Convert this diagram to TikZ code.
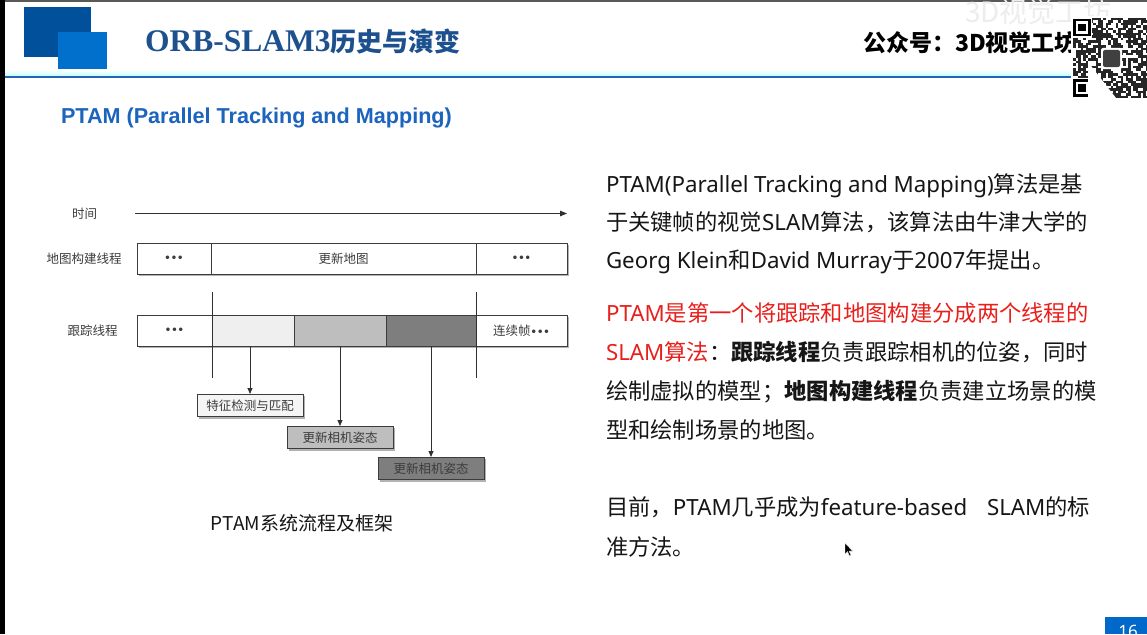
\documentclass[tikz,border=0pt]{standalone}
\usepackage{fontspec}
\usetikzlibrary{arrows.meta}
\newfontfamily\cjk{Noto Sans CJK SC}
\newfontfamily\lat{Noto Sans}
\newfontfamily\titleserif{Liberation Serif}
\newfontfamily\hsans{Liberation Sans}
\newfontfamily\dv{DejaVu Sans}
\definecolor{titleblue}{RGB}{28,80,142}
\definecolor{logodark}{RGB}{0,80,155}
\definecolor{logolight}{RGB}{0,112,204}
\definecolor{subblue}{RGB}{28,100,190}
\definecolor{hotred}{RGB}{232,32,28}
\definecolor{bodytxt}{RGB}{22,22,22}
\definecolor{diag}{RGB}{60,60,60}
\definecolor{cellA}{RGB}{239,239,239}
\definecolor{cellB}{RGB}{190,190,190}
\definecolor{cellC}{RGB}{126,126,126}
\definecolor{rule}{RGB}{40,100,180}
\definecolor{pageblue}{RGB}{0,104,200}
\newcommand{\bulletrun}{{\dv\bfseries\fontsize{10}{10}\selectfont •••}}
\begin{document}
\begin{tikzpicture}[x=1pt,y=-1pt,
  every node/.style={inner sep=0pt,outer sep=0pt},
  lbl/.style={text=diag,font=\cjk\fontsize{12.5}{13}\selectfont},
  cell/.style={lbl,draw=diag,line width=0.7pt,minimum height=31pt,anchor=north west,fill=white},
  taskbox/.style={lbl,draw=diag,line width=0.7pt,minimum width=106pt,minimum height=22.5pt,anchor=north west},
  conn/.style={draw=diag!80!black,line width=0.8pt},
  tip/.style={conn,-{Triangle[length=6pt,width=5pt]}},
  body/.style={anchor=base west,text=bodytxt,font=\cjk\fontsize{22.3}{22.3}\selectfont},
]
\useasboundingbox (0,0) rectangle (1147,634);
\fill[white] (0,0) rectangle (1147,634);

% screen frame
\fill[black] (0,0) rectangle (5,634);
\fill[black!65] (5,0) rectangle (1147,2.5);

% header logo squares
\fill[logodark] (24,7) rectangle (91,57);
\fill[logolight] (58,32) rectangle (107,69);

% header title
\node[anchor=west,text=titleblue] (title) at (145,42)
  {\titleserif\bfseries\fontsize{31.5}{31.5}\selectfont ORB-SLAM3\cjk\fontsize{26}{26}\selectfont 历史与演变};
\node[anchor=west,text=black] (account) at (863,43)
  {\cjk\bfseries\fontsize{23}{23}\selectfont 公众号：3D视觉工坊};

% header rule with glow
\shade[top color=white,bottom color=cyan!25] (5,70) rectangle (1073,76);
\fill[rule] (5,76) rectangle (1073,78);

% faint watermark
\node[anchor=west,text=black!7] (mark) at (965,12)
  {\cjk\fontsize{28}{28}\selectfont 3D视觉工坊};

% QR code
\fill[white] (1071,16) rectangle (1147,98);
\pgfmathsetseed{11}
\foreach \i in {0,...,29}{
  \foreach \j in {0,...,31}{
    \pgfmathrandominteger{\r}{0}{2}
    \ifnum\r>0 \fill[black!85] (1073+2.5*\i,18+2.5*\j) rectangle ++(2.5,2.5);\fi
  }
}
\foreach \yy in {19,79}{
  \fill[white] (1072,\yy-1) rectangle ++(20,20);
  \fill[black] (1073,\yy) rectangle ++(17.5,17.5);
  \fill[white] (1075.5,\yy+2.5) rectangle ++(12.5,12.5);
  \fill[black] (1078,\yy+5) rectangle ++(7.5,7.5);
}
\fill[white] (1088,62) -- (1116,98) -- (1088,98) -- cycle;
\fill[white,rounded corners=2pt] (1101,48) rectangle (1122,69);
\fill[black!75,rounded corners=2pt] (1103,50) rectangle (1120,67);

% section heading
\node[anchor=west,text=subblue] (heading) at (61,118)
  {\hsans\bfseries\fontsize{21.6}{21.6}\selectfont PTAM (Parallel Tracking and Mapping)};

% ---------- timeline diagram ----------
\node[lbl] (timelbl) at (84.5,214) {时间};
\coordinate (t0) at (135,213.5);
\coordinate (t1) at (567,213.5);
\draw[conn,-{Triangle[length=7pt,width=5.5pt]}] (t0) -- (t1);

% mapping thread row
\node[lbl] (maplbl) at (84,259) {地图构建线程};
\fill[black!30] (138.5,244.5) rectangle (568.5,275.5);
\node[cell,minimum width=74pt]  (m1) at (137,243.3) {\bulletrun};
\node[cell,minimum width=265pt] (m2) at (211,243.3) {更新地图};
\node[cell,minimum width=91pt]  (m3) at (476,243.3) {\bulletrun};

% tracking thread row
\node[lbl] (trklbl) at (92.5,330.5) {跟踪线程};
\fill[black!30] (138.5,316.5) rectangle (568.5,347.5);
\node[cell,minimum width=75pt] (k1) at (137,315.3) {\bulletrun};
\node[cell,minimum width=82pt,fill=cellA] (k2) at (212,315.3) {};
\node[cell,minimum width=92pt,fill=cellB] (k3) at (294,315.3) {};
\node[cell,minimum width=90pt,fill=cellC] (k4) at (386,315.3) {};
\node[cell,minimum width=91pt] (k5) at (476,315.3) {连续帧\bulletrun};

% keyframe boundaries
\coordinate (v1a) at (212,292); \coordinate (v1b) at (212,378);
\coordinate (v2a) at (476,292); \coordinate (v2b) at (476,378);
\draw[conn] (v1a) -- (v1b);
\draw[conn] (v2a) -- (v2b);

% tracking sub-tasks
\fill[black!30] (198.5,395.5) rectangle (304.5,418.5);
\node[taskbox,fill=black!4] (b1) at (197,394) {特征检测与匹配};
\fill[black!30] (288.5,427.5) rectangle (394.5,450.5);
\node[taskbox,fill=cellB] (b2) at (287,426) {更新相机姿态};
\fill[black!30] (379.5,458.5) rectangle (485.5,481.5);
\node[taskbox,fill=cellC] (b3) at (378,457) {更新相机姿态};
\draw[tip] (b1.north |- k2.south) -- (b1.north);
\draw[tip] (b2.north |- k3.south) -- (b2.north);
\draw[tip] (b3.north |- k4.south) -- (b3.north);

\node[text=bodytxt] (caption) at (302,523)
  {\cjk\fontsize{19}{19}\selectfont PTAM系统流程及框架};

% ---------- description text ----------
\node[body] (p1) at (606,192) {\hbox to 477pt{\lat PTAM(Parallel Tracking and Mapping)\cjk 算法是基}};
\node[body] (p2) at (606,230) {于关键帧的视觉\lat SLAM\cjk 算法，该算法由牛津大学的};
\node[body] (p3) at (606,268) {\lat Georg Klein\cjk 和\lat David Murray\cjk 于\lat 2007\cjk 年提出。};
\node[body] (p4) at (606,321) {\color{hotred}\lat PTAM\cjk 是第一个将跟踪和地图构建分成两个线程的};
\node[body] (p5) at (606,360) {{\color{hotred}\lat SLAM\cjk 算法}：\bfseries 跟踪线程\mdseries 负责跟踪相机的位姿，同时};
\node[body] (p6) at (606,399) {绘制虚拟的模型；\bfseries 地图构建线程\mdseries 负责建立场景的模};
\node[body] (p7) at (606,438) {型和绘制场景的地图。};
\node[body] (p8) at (606,515) {\hbox to 484pt{目前，\lat PTAM\cjk 几乎成为\lat feature-based SLAM\cjk 的标}};
\node[body] (p9) at (606,555) {准方法。};

% pointer
\fill[black,draw=white,line width=0.3pt] (845,543) -- (845,554) -- (847.5,551.5) -- (849.5,556) -- (851,555.3) -- (849,551) -- (852.5,551) -- cycle;

% page number tab
\fill[pageblue] (1105,617) rectangle (1147,634);
\node[text=white] (pageno) at (1128,631) {\lat\fontsize{17}{17}\selectfont 16};
\end{tikzpicture}
\end{document}
